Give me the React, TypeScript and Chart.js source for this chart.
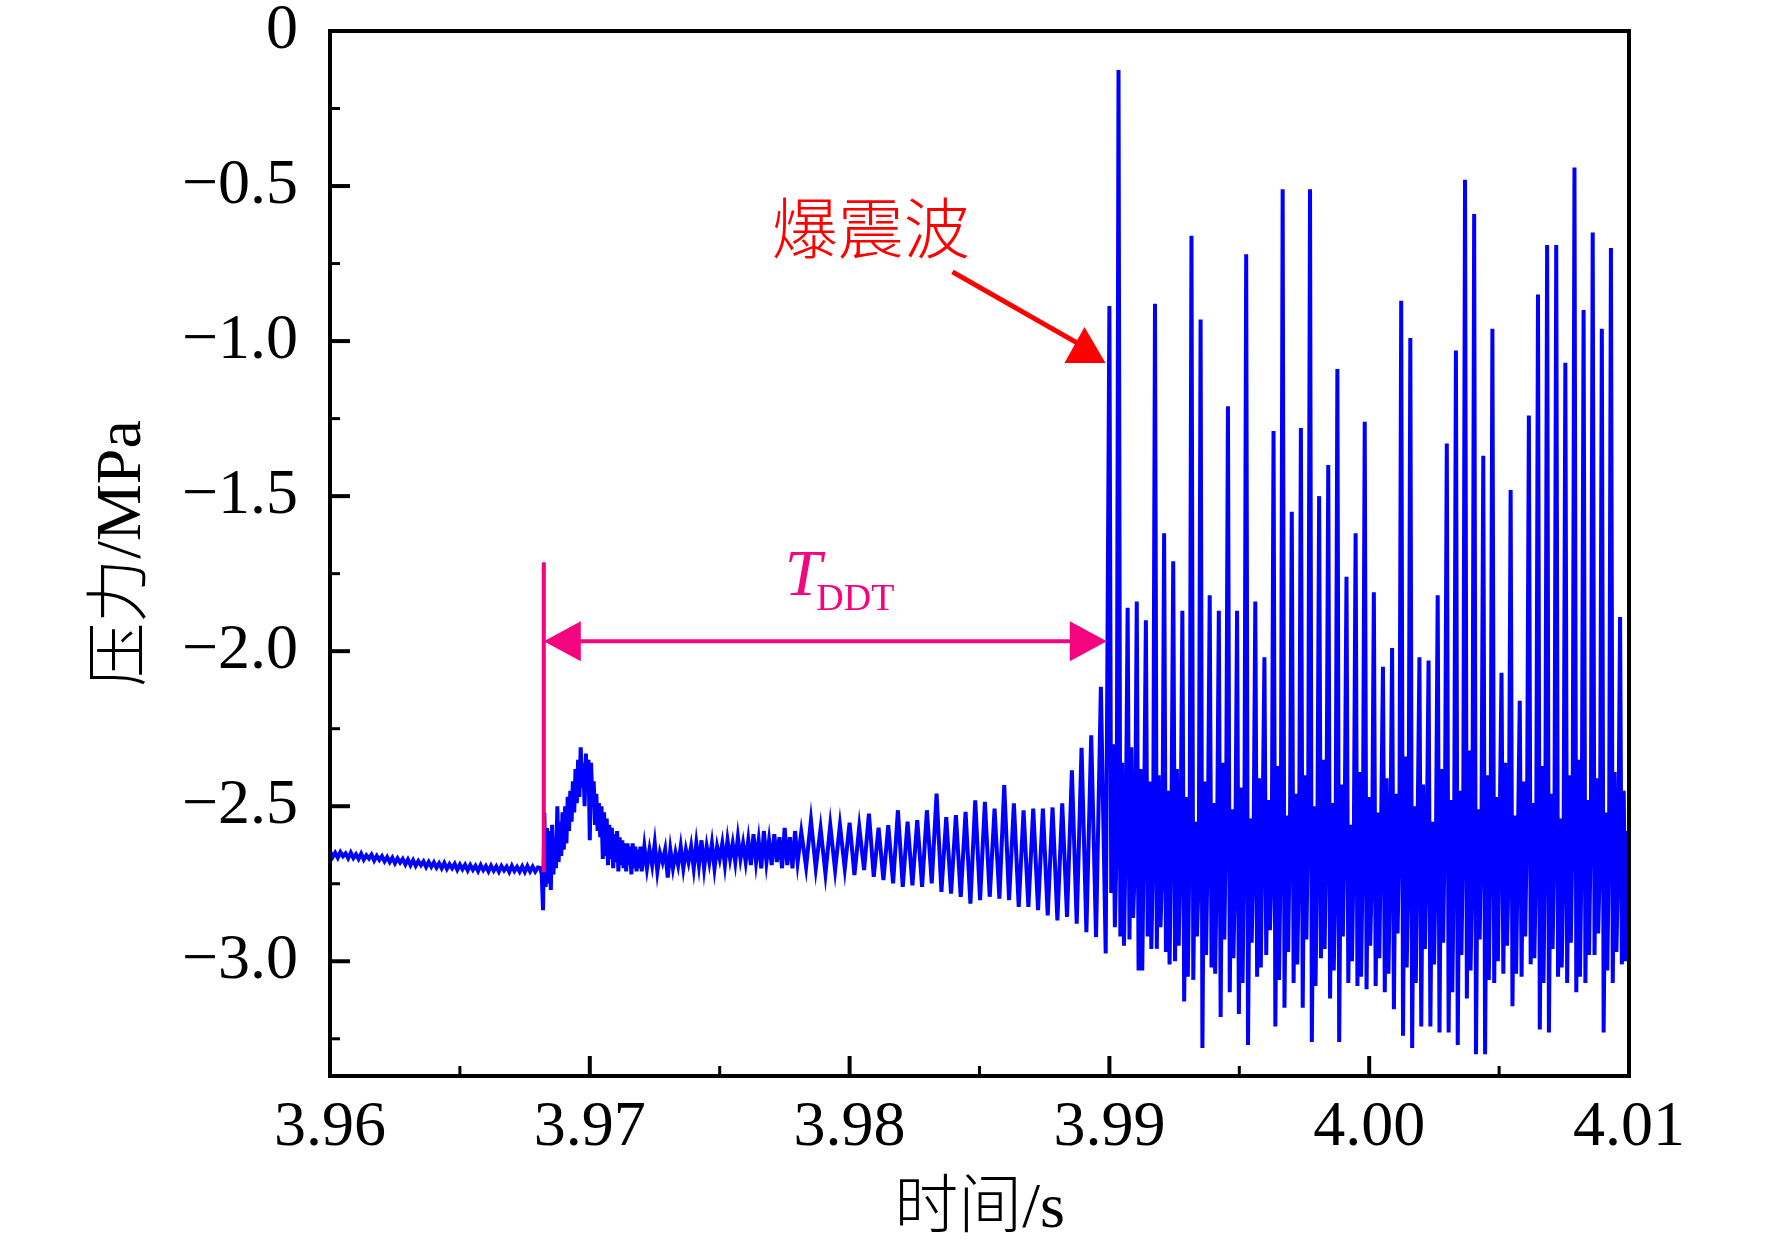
import React, { useEffect, useRef } from 'react';
import { Chart, registerables } from 'chart.js';

Chart.register(...registerables);

// 采样段：起始时间 (s)、采样间隔 (s)、压力读数 (MPa)
const BASE_T0 = 3.96;
const BASE_DT = 0.0001;
const BASE_P = [
  -2.645, -2.664, -2.65, -2.666, -2.648, -2.661, -2.652, -2.668, -2.65, -2.667,
  -2.655, -2.67, -2.653, -2.672, -2.658, -2.669, -2.656, -2.675, -2.66, -2.673,
  -2.661, -2.678, -2.664, -2.68, -2.666, -2.684, -2.668, -2.682, -2.67, -2.688,
  -2.672, -2.69, -2.674, -2.692, -2.677, -2.69, -2.678, -2.696, -2.68, -2.695,
  -2.681, -2.698, -2.684, -2.7, -2.683, -2.702, -2.687, -2.7, -2.686, -2.705,
  -2.688, -2.703, -2.689, -2.707, -2.69, -2.705, -2.692, -2.709, -2.69, -2.706,
  -2.693, -2.71, -2.692, -2.708, -2.694, -2.711, -2.693, -2.707, -2.695, -2.712,
  -2.692, -2.709, -2.696, -2.711, -2.694, -2.712, -2.693, -2.71, -2.695, -2.711,
  -2.698,
];

// 起爆后的压力突跃与回落
const ONSET_T0 = 3.9681;
const ONSET_DT = 0.00005;
const ONSET_P = [
  -2.7, -2.72, -2.835, -2.52, -2.76, -2.57, -2.75, -2.58, -2.77, -2.56,
  -2.72, -2.6, -2.7, -2.5, -2.68, -2.55, -2.66, -2.52, -2.64, -2.5,
  -2.62, -2.47, -2.58, -2.45, -2.55, -2.42, -2.52, -2.38, -2.49, -2.35,
  -2.47, -2.31, -2.44, -2.36, -2.5, -2.33, -2.45, -2.35, -2.61, -2.36,
  -2.5, -2.42, -2.56, -2.46, -2.58, -2.49, -2.6, -2.5, -2.67, -2.52,
  -2.66, -2.54, -2.69, -2.56, -2.67, -2.57, -2.7, -2.59, -2.68, -2.58,
  -2.71, -2.6, -2.69, -2.61, -2.7, -2.62, -2.71, -2.62, -2.69, -2.63,
  -2.72, -2.62, -2.7, -2.63, -2.71, -2.64, -2.7, -2.63, -2.71,
];

const RAMP_T0 = 3.9721;
const RAMP_DT = 0.0001;
const RAMP_P = [
  -2.63, -2.7, -2.64, -2.69, -2.62, -2.71, -2.65, -2.68, -2.64, -2.73,
  -2.64, -2.7, -2.65, -2.69, -2.63, -2.7, -2.64, -2.68, -2.63, -2.7,
  -2.62, -2.69, -2.61, -2.7, -2.63, -2.68, -2.62, -2.7, -2.63, -2.67,
  -2.62, -2.69, -2.61, -2.67, -2.62, -2.68, -2.6, -2.67, -2.62, -2.68,
  -2.61, -2.69, -2.59, -2.68, -2.61, -2.7, -2.58, -2.68, -2.61, -2.69,
  -2.59, -2.68, -2.6, -2.7, -2.57, -2.69, -2.6, -2.7, -2.58, -2.68,
];

// 爆燃振荡：波峰与波谷交替
const PRE_T0 = 3.97814;
const PRE_DT = 0.000186;
const PRE_PEAKS = [
  -2.583, -2.545, -2.572, -2.561, -2.561, -2.553, -2.567, -2.524, -2.569, -2.561,
  -2.513, -2.55, -2.545, -2.513, -2.459, -2.535, -2.529, -2.518, -2.481, -2.486,
  -2.508, -2.432, -2.491, -2.513, -2.508, -2.508, -2.504, -2.491, -2.384, -2.312,
  -2.271, -2.115,
];
const PRE_TROUGHS = [
  -2.696, -2.701, -2.717, -2.706, -2.701, -2.722, -2.706, -2.728, -2.738, -2.749,
  -2.76, -2.755, -2.76, -2.749, -2.776, -2.782, -2.792, -2.814, -2.803, -2.792,
  -2.798, -2.803, -2.825, -2.825, -2.835, -2.852, -2.868, -2.857, -2.879, -2.906,
  -2.922, -2.975,
];

// 爆震段：每个周期 = 尖峰、深谷、次峰、次谷、中值
const DET_T0 = 3.99;
const DET_DT = 0.0000702;
const DET_SPIKES = [
  -0.887, -0.126, -1.86, -1.84, -1.9, -0.88, -1.62, -1.71, -1.87, -0.66,
  -0.93, -1.82, -1.87, -1.21, -1.87, -0.72, -1.84, -2.02, -1.29, -0.51,
  -1.55, -1.28, -0.51, -1.5, -1.4, -1.09, -1.76, -1.62, -1.26, -1.81,
  -2.05, -1.99, -0.87, -0.99, -2.02, -2.03, -1.82, -1.33, -1.03, -0.48,
  -0.59, -1.37, -0.96, -2.07, -1.48, -2.16, -1.24, -0.85, -0.69, -0.69,
  -1.07, -0.44, -0.9, -0.65, -0.96, -0.7, -1.89,
];
const DET_TROUGHS = [
  -2.78, -2.92, -2.93, -3.03, -2.92, -2.96, -2.97, -3.0, -3.13, -3.06,
  -3.28, -3.02, -3.18, -3.1, -3.17, -3.27, -3.05, -2.98, -3.21, -3.15,
  -3.07, -3.15, -3.26, -2.99, -3.12, -3.26, -3.07, -3.08, -3.09, -3.08,
  -3.1, -3.155, -3.24, -3.28, -3.21, -3.21, -3.23, -3.23, -3.27, -3.12,
  -3.3, -3.3, -3.07, -3.04, -3.145, -3.05, -3.01, -3.22, -3.23, -3.05,
  -3.07, -3.1, -3.07, -2.98, -3.23, -3.07, -3.01,
];
const DET_RIPPLE_HIGH = [
  -2.3, -2.36, -2.31, -2.38, -2.42, -2.4, -2.45, -2.38, -2.47, -2.55,
  -2.42, -2.49, -2.36, -2.51, -2.44, -2.54, -2.41, -2.48, -2.37, -2.53,
  -2.46, -2.4, -2.5, -2.35, -2.49, -2.43, -2.56, -2.39, -2.47, -2.52,
  -2.41, -2.46, -2.34, -2.5, -2.43, -2.55, -2.38, -2.48, -2.45, -2.32,
  -2.51, -2.4, -2.47, -2.36, -2.53, -2.42, -2.49, -2.37, -2.46, -2.54,
  -2.4, -2.35, -2.48, -2.41, -2.52, -2.39, -2.45,
];
const DET_RIPPLE_LOW = [
  -2.89, -2.95, -2.86, -3.03, -2.96, -2.89, -3.01, -2.95, -3.05, -2.92,
  -2.98, -3.04, -2.93, -2.99, -3.07, -2.94, -3.02, -2.9, -3.06, -2.97,
  -3.01, -2.93, -3.08, -2.96, -3.03, -2.92, -3.0, -3.05, -2.95, -2.99,
  -3.04, -2.91, -3.02, -3.07, -2.96, -3.01, -2.94, -3.1, -2.98, -3.03,
  -2.93, -3.06, -3.0, -2.95, -3.04, -2.92, -2.99, -3.07, -2.96, -3.02,
  -2.94, -3.05, -2.98, -2.91, -3.03, -2.97, -3.0,
];
const DET_RIPPLE_MID = [
  -2.62, -2.58, -2.68, -2.55, -2.65, -2.7, -2.57, -2.64, -2.6, -2.72,
  -2.59, -2.66, -2.54, -2.69, -2.61, -2.67, -2.56, -2.71, -2.63, -2.58,
  -2.68, -2.53, -2.65, -2.6, -2.73, -2.57, -2.64, -2.62, -2.69, -2.55,
  -2.66, -2.59, -2.7, -2.56, -2.63, -2.67, -2.52, -2.65, -2.6, -2.71,
  -2.58, -2.64, -2.56, -2.68, -2.61, -2.54, -2.67, -2.59, -2.63, -2.7,
  -2.57, -2.62, -2.55, -2.66, -2.6, -2.68, -2.58,
];

// 坐标轴刻度
const X_MIN = 3.96;
const X_MAX = 4.01;
const Y_MIN = -3.37;
const Y_MAX = 0;
const X_MAJOR = [3.96, 3.97, 3.98, 3.99, 4.0, 4.01];
const X_MINOR = [3.965, 3.975, 3.985, 3.995, 4.005];
const Y_MAJOR = [0, -0.5, -1.0, -1.5, -2.0, -2.5, -3.0];
const Y_MINOR = [-0.25, -0.75, -1.25, -1.75, -2.25, -2.75, -3.25];

// 标注（数据坐标）
const TDDT_START = 3.96823;
const TDDT_END = 3.9899;
const TDDT_Y = -1.968;
const TDDT_MARK_TOP = -1.713;
const TDDT_MARK_BOTTOM = -2.713;
const TDDT_LABEL = { x: 3.9775, y: -1.819 };
const WAVE_LABEL = { x: 3.98081, y: -0.635 };
const WAVE_ARROW_FROM = { x: 3.98396, y: -0.777 };
const WAVE_ARROW_TIP = { x: 3.98985, y: -1.071 };

const SERIF = "'Liberation Serif', 'Times New Roman', serif";
const MIXED = "'Liberation Serif', 'Noto Sans CJK SC', serif";
const MAGENTA = '#f5047f';
const RED = '#ff0000';

type Pt = { x: number; y: number };

const sampled = (t0: number, dt: number, values: number[]): Pt[] =>
  values.map((y, i) => ({ x: t0 + i * dt, y }));

const interleave = (...rows: number[][]): number[] => {
  const out: number[] = [];
  rows[0].forEach((_, i) => rows.forEach((r) => out.push(r[i])));
  return out;
};

const SIGNAL: Pt[] = [
  ...sampled(BASE_T0, BASE_DT, BASE_P),
  ...sampled(ONSET_T0, ONSET_DT, ONSET_P),
  ...sampled(RAMP_T0, RAMP_DT, RAMP_P),
  ...sampled(PRE_T0, PRE_DT, interleave(PRE_PEAKS, PRE_TROUGHS)),
  ...sampled(
    DET_T0,
    DET_DT,
    interleave(DET_SPIKES, DET_TROUGHS, DET_RIPPLE_HIGH, DET_RIPPLE_LOW, DET_RIPPLE_MID)
  ),
];

const overlayPlugin = {
  id: 'overlay',
  afterDatasetsDraw(chart: Chart) {
    const { ctx, chartArea: a } = chart;
    const px = (v: number) => chart.scales.x.getPixelForValue(v);
    const py = (v: number) => chart.scales.y.getPixelForValue(v);
    const seg = (x1: number, y1: number, x2: number, y2: number, w: number) => {
      ctx.lineWidth = w;
      ctx.beginPath();
      ctx.moveTo(x1, y1);
      ctx.lineTo(x2, y2);
      ctx.stroke();
    };
    const tri = (p: number[][]) => {
      ctx.beginPath();
      ctx.moveTo(p[0][0], p[0][1]);
      ctx.lineTo(p[1][0], p[1][1]);
      ctx.lineTo(p[2][0], p[2][1]);
      ctx.closePath();
      ctx.fill();
    };

    ctx.save();

    // 内向刻度
    ctx.strokeStyle = '#000';
    X_MAJOR.forEach((v) => seg(px(v), a.bottom, px(v), a.bottom - 20, 4));
    X_MINOR.forEach((v) => seg(px(v), a.bottom, px(v), a.bottom - 10, 3));
    Y_MAJOR.forEach((v) => seg(a.left, py(v), a.left + 20, py(v), 4));
    Y_MINOR.forEach((v) => seg(a.left, py(v), a.left + 10, py(v), 3));

    // 边框
    ctx.lineWidth = 4;
    ctx.strokeRect(a.left, a.top, a.right - a.left, a.bottom - a.top);

    // T_DDT 双向箭头
    ctx.strokeStyle = MAGENTA;
    ctx.fillStyle = MAGENTA;
    const x0 = px(TDDT_START);
    const x1 = px(TDDT_END);
    const yA = py(TDDT_Y);
    seg(x0, py(TDDT_MARK_TOP), x0, py(TDDT_MARK_BOTTOM), 4);
    seg(x0 + 30, yA, x1 - 30, yA, 4);
    tri([[x0, yA], [x0 + 37, yA - 20], [x0 + 37, yA + 20]]);
    tri([[x1, yA], [x1 - 37, yA - 20], [x1 - 37, yA + 20]]);

    const tx = px(TDDT_LABEL.x);
    const ty = py(TDDT_LABEL.y);
    ctx.textAlign = 'left';
    ctx.textBaseline = 'alphabetic';
    ctx.font = `italic 66px ${SERIF}`;
    ctx.fillText('T', tx, ty);
    const tw = ctx.measureText('T').width;
    ctx.font = `38px ${SERIF}`;
    ctx.fillText('DDT', tx + tw - 5, ty + 15);

    // 爆震波 标注
    ctx.fillStyle = RED;
    ctx.strokeStyle = RED;
    ctx.font = `300 66px 'Noto Sans CJK SC', sans-serif`;
    ctx.textAlign = 'center';
    ctx.textBaseline = 'middle';
    ctx.fillText('爆震波', px(WAVE_LABEL.x), py(WAVE_LABEL.y));
    const hx = px(WAVE_ARROW_TIP.x);
    const hy = py(WAVE_ARROW_TIP.y);
    seg(px(WAVE_ARROW_FROM.x), py(WAVE_ARROW_FROM.y), hx - 28, hy - 20, 5);
    tri([[hx, hy], [hx - 41, hy], [hx - 21, hy - 36]]);

    ctx.restore();
  },
};

const PressureChart: React.FC = () => {
  const canvasRef = useRef<HTMLCanvasElement>(null);
  const chartRef = useRef<Chart | null>(null);

  useEffect(() => {
    document.body.style.margin = '0';
    if (!canvasRef.current) return;
    if (chartRef.current) chartRef.current.destroy();

    chartRef.current = new Chart(canvasRef.current, {
      type: 'line',
      data: {
        datasets: [
          {
            data: SIGNAL,
            borderColor: '#0000ff',
            borderWidth: 4,
            pointRadius: 0,
            fill: false,
            tension: 0,
          },
        ],
      },
      options: {
        animation: false,
        responsive: true,
        maintainAspectRatio: false,
        layout: { padding: { top: 31, right: 143, bottom: 0, left: 0 } },
        plugins: {
          legend: { display: false },
          tooltip: { enabled: false },
        },
        scales: {
          x: {
            type: 'linear',
            min: X_MIN,
            max: X_MAX,
            grid: { display: false, drawTicks: false },
            border: { display: false },
            afterBuildTicks: (s: any) => {
              s.ticks = X_MAJOR.map((value) => ({ value }));
            },
            afterFit: (s: any) => {
              s.height = 173;
              s.paddingLeft = 0;
              s.paddingRight = 0;
            },
            ticks: {
              autoSkip: false,
              maxRotation: 0,
              padding: 14,
              color: '#000',
              font: { family: SERIF, size: 64 },
              callback: (v: any) => Number(v).toFixed(2),
            },
            title: {
              display: true,
              text: '时间/s',
              color: '#000',
              font: { family: MIXED, size: 64, weight: 300 as any },
              padding: { top: 0, bottom: 0 },
            },
          },
          y: {
            type: 'linear',
            min: Y_MIN,
            max: Y_MAX,
            grid: { display: false, drawTicks: false },
            border: { display: false },
            afterBuildTicks: (s: any) => {
              s.ticks = Y_MAJOR.map((value) => ({ value }));
            },
            afterFit: (s: any) => {
              s.width = 330;
              s.paddingTop = 0;
              s.paddingBottom = 0;
            },
            ticks: {
              autoSkip: false,
              padding: 32,
              color: '#000',
              font: { family: SERIF, size: 64 },
              callback: (v: any) => {
                const n = Number(v);
                return Math.abs(n) < 1e-9 ? '0' : '\u2212' + Math.abs(n).toFixed(1);
              },
            },
            title: {
              display: true,
              text: '压力/MPa',
              color: '#000',
              font: { family: MIXED, size: 64, weight: 300 as any },
              padding: { top: 85, bottom: 0 },
            },
          },
        },
      },
      plugins: [overlayPlugin],
    });

    return () => {
      if (chartRef.current) {
        chartRef.current.destroy();
        chartRef.current = null;
      }
    };
  }, []);

  return (
    <div style={{ position: 'relative', width: 1772, height: 1249, background: '#fff' }}>
      <canvas ref={canvasRef}></canvas>
    </div>
  );
};

export default function App() {
  return <PressureChart />;
}
